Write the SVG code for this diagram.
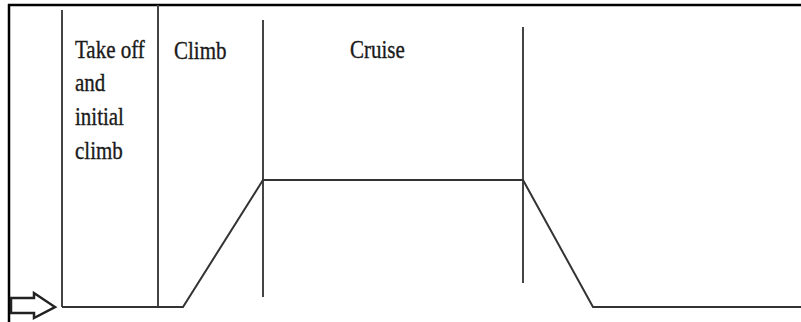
<svg xmlns="http://www.w3.org/2000/svg" width="801" height="322" viewBox="0 0 801 322">
<style>
.frame{stroke:#000;stroke-width:2.5;fill:none}
.div{stroke:#444;stroke-width:2;fill:none}
.prof{stroke:#333;stroke-width:2;fill:none;stroke-linejoin:miter}
.ground{stroke:#555;stroke-width:2.5;fill:none}
.lbl{font-family:"Liberation Serif","Times New Roman",serif;font-size:21px;fill:#1a1a1a;stroke:#1a1a1a;stroke-width:0.3}
</style>
<rect width="801" height="322" fill="#fff"/>
<g id="frame">
<line class="frame" x1="8" y1="5" x2="801" y2="5"/>
<line class="frame" x1="9" y1="4" x2="9" y2="322"/>
</g>
<g id="dividers">
<line class="div" x1="62" y1="10" x2="62" y2="307"/>
<line class="div" x1="158" y1="5" x2="158" y2="307"/>
<line class="div" x1="263" y1="20" x2="263" y2="297"/>
<line class="div" x1="523" y1="27" x2="523" y2="283"/>
</g>
<g id="connectors">
<polyline class="prof" points="62,307 183,307 263,180 523,180 593,307 801,307"/>
</g>
<g id="arrow">
<path d="M11,298 L34,298 L34,293 L55,307 L34,318 L34,313 L11,313 Z" fill="#fff" stroke="#222" stroke-width="2.5" stroke-linejoin="miter"/>
</g>
<g id="takeoff">
<text class="lbl" transform="translate(75,58) scale(1,1.15)">Take off</text>
<text class="lbl" transform="translate(75,91) scale(1,1.15)">and</text>
<text class="lbl" transform="translate(75,125) scale(1,1.15)">initial</text>
<text class="lbl" transform="translate(75,159) scale(1,1.15)">climb</text>
</g>
<g id="climb">
<text class="lbl" transform="translate(174,59) scale(1,1.15)">Climb</text>
</g>
<g id="cruise">
<text class="lbl" transform="translate(350,58) scale(1,1.15)">Cruise</text>
</g>
</svg>
